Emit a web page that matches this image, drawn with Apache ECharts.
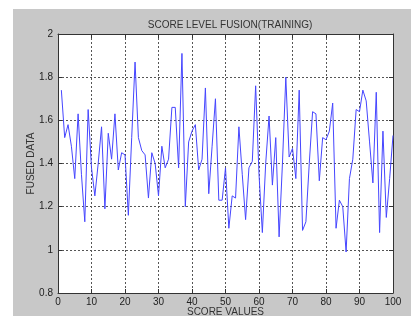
<!DOCTYPE html>
<html>
<head>
<meta charset="utf-8">
<script src="https://cdn.jsdelivr.net/npm/echarts@6/dist/echarts.min.js"></script>
<style>
  html, body { margin: 0; padding: 0; background: #fff; }
  #frame { position: absolute; left: 13px; top: 9px; width: 398px; height: 307px; background: #c8c8c8; }
  #main { position: absolute; left: 0; top: 0; width: 411px; height: 316px; }
</style>
</head>
<body>
<div id="frame"></div>
<div id="main"></div>
<script>
// fused score per training sample (sample 1..100)
const fusedData = [
  1.74, 1.52, 1.58, 1.48, 1.33, 1.63, 1.35, 1.13, 1.65, 1.38,
  1.25, 1.40, 1.57, 1.19, 1.54, 1.42, 1.63, 1.37, 1.45, 1.44,
  1.16, 1.52, 1.87, 1.52, 1.46, 1.44, 1.24, 1.45, 1.40, 1.25,
  1.48, 1.38, 1.42, 1.66, 1.66, 1.38, 1.91, 1.20, 1.50, 1.55,
  1.58, 1.37, 1.42, 1.75, 1.26, 1.48, 1.70, 1.23, 1.23, 1.38,
  1.10, 1.25, 1.24, 1.57, 1.35, 1.14, 1.38, 1.41, 1.76, 1.35,
  1.08, 1.40, 1.62, 1.30, 1.52, 1.06, 1.40, 1.80, 1.43, 1.47,
  1.33, 1.74, 1.09, 1.13, 1.40, 1.64, 1.63, 1.32, 1.52, 1.51,
  1.55, 1.68, 1.10, 1.23, 1.20, 0.99, 1.33, 1.42, 1.65, 1.64,
  1.74, 1.69, 1.50, 1.31, 1.73, 1.08, 1.55, 1.15, 1.33, 1.53
];
const sampleNo = fusedData.map((v, i) => i + 1);
const titleText = 'SCORE LEVEL FUSION(TRAINING)';
const xName = 'SCORE VALUES';
const yName = 'FUSED DATA';

const chart = echarts.init(document.getElementById('main'));
const font = 'Liberation Sans, Arial, sans-serif';
const tick = { show: true, inside: true, length: 4, lineStyle: { color: '#333' } };
const grid = { show: true, lineStyle: { color: '#555', type: [2, 2], width: 1 } };

chart.setOption({
  animation: false,
  title: {
    text: titleText,
    left: 225, top: 15, textAlign: 'center',
    textStyle: { fontFamily: font, fontSize: 10, fontWeight: 'normal', color: '#333' }
  },
  grid: {
    left: 58, top: 34, right: 18, bottom: 23,
    outerBoundsMode: 'none', containLabel: false,
    show: true, backgroundColor: '#fff', borderWidth: 0
  },
  xAxis: [{
    type: 'value', min: 0, max: 100, interval: 10, position: 'bottom',
    name: xName, nameLocation: 'middle', nameGap: 14, nameMoveOverlap: false,
    nameTextStyle: { fontFamily: font, fontSize: 10, color: '#333', verticalAlign: 'top' },
    axisLine: { show: true, lineStyle: { color: '#333' } },
    axisTick: tick,
    axisLabel: { fontFamily: font, fontSize: 10, color: '#222', margin: 4 },
    splitLine: grid
  }, {
    type: 'value', min: 0, max: 100, interval: 10, position: 'top',
    axisLine: { show: true, onZero: false, lineStyle: { color: '#333' } },
    axisTick: tick, axisLabel: { show: false }, splitLine: { show: false }
  }],
  yAxis: [{
    type: 'value', min: 0.8, max: 2, interval: 0.2, position: 'left',
    name: yName, nameLocation: 'middle', nameGap: 22, nameMoveOverlap: false,
    nameTextStyle: { fontFamily: font, fontSize: 10, color: '#333' },
    axisLine: { show: true, lineStyle: { color: '#333' } },
    axisTick: tick,
    axisLabel: { fontFamily: font, fontSize: 10, color: '#222', margin: 5 },
    splitLine: grid
  }, {
    type: 'value', min: 0.8, max: 2, interval: 0.2, position: 'right',
    axisLine: { show: true, onZero: false, lineStyle: { color: '#333' } },
    axisTick: tick, axisLabel: { show: false }, splitLine: { show: false }
  }],
  series: [{
    type: 'line',
    data: sampleNo.map((x, i) => [x, fusedData[i]]),
    showSymbol: false,
    lineStyle: { color: '#4646ff', width: 1 },
    itemStyle: { color: '#4646ff' }
  }]
});
</script>
</body>
</html>
